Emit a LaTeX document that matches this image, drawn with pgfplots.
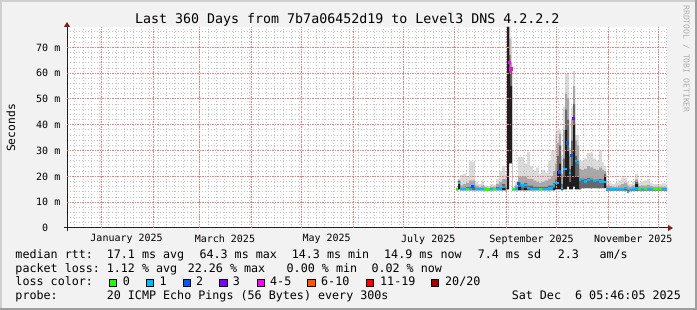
\documentclass[border=0pt]{standalone}
\usepackage{fontspec}
\setmainfont{DejaVu Sans Mono}
\usepackage{pgfplots}
\usepackage{pgfplotstable}
\pgfplotsset{compat=1.18}
\usepgfplotslibrary{fillbetween}
\usetikzlibrary{arrows.meta}
\frenchspacing

\definecolor{bgc}{HTML}{F2F2F2}
\definecolor{shA}{HTML}{CFCFCF}
\definecolor{shB}{HTML}{9E9E9E}
\definecolor{gridc}{HTML}{C2C2C2}
\definecolor{mgridc}{HTML}{EB8080}
\definecolor{arrowc}{HTML}{801F1F}
\definecolor{axisc}{HTML}{1F1F1F}
\definecolor{wm}{HTML}{B0B0B0}
\definecolor{L0}{HTML}{26FF00}
\definecolor{L1}{HTML}{00B8FF}
\definecolor{L2}{HTML}{0059FF}
\definecolor{L3}{HTML}{7E00FF}
\definecolor{L4}{HTML}{FF00FF}
\definecolor{L6}{HTML}{FF5500}
\definecolor{L11}{HTML}{FF0000}
\definecolor{L20}{HTML}{A10000}
\definecolor{sm1}{HTML}{BEBEBE}
\definecolor{sm2}{HTML}{A8A8A8}
\definecolor{sm3}{HTML}{686868}
\definecolor{sm4}{HTML}{1E1E1E}

\newcommand\legfont{\fontsize{11.7bp}{14bp}\selectfont}
\newcommand\titlefont{\fontsize{13.3bp}{16bp}\selectfont}
\newcommand\tickfont{\fontsize{10bp}{12bp}\selectfont}
\newcommand\wmfont{\fontsize{8.1bp}{10bp}\selectfont}
\newcommand\ylfont{\fontsize{11.3bp}{13bp}\selectfont}

% d = days since 11 Dec 2024 05:46; values in ms
\pgfplotstableread{
d      med   lo    core  p60   p80   hi
233.4  15.0  14.6  14.6  15.2  15.5  16.0
234.6  17.5  15.0  18.0  18.2  18.6  19.0
235.8  15.0  14.6  14.6  15.6  16.5  20.5
237.6  15.0  14.6  14.6  15.6  17.0  21.0
239.4  15.0  14.6  14.6  15.8  17.5  20.0
241.2  15.1  14.6  14.6  16.0  18.5  26.0
243.0  16.2  14.6  14.6  16.5  18.5  25.5
244.8  15.2  14.6  14.6  15.6  16.5  18.0
246.6  15.0  14.6  14.6  15.4  16.0  17.0
248.4  15.0  14.6  14.6  15.4  16.5  18.5
250.2  14.9  14.5  14.5  15.2  15.8  16.5
252.0  14.9  14.5  14.5  15.2  15.6  16.3
253.8  15.0  14.6  14.6  15.3  16.0  17.0
255.6  15.0  14.6  14.6  15.3  16.0  16.8
257.4  15.0  14.6  14.6  15.8  17.0  19.0
259.2  15.3  14.6  14.6  16.0  18.0  22.0
261.0  16.0  14.6  15.5  17.0  19.0  24.0
262.8  15.2  14.6  14.6  16.0  19.0  21.0
264.0  nan   15.0  77.9  77.9  77.9  77.9
265.2  64.3  25.0  60.0  67.0  73.5  77.9
266.1  61.8  25.0  55.0  61.0  64.0  73.5
267.0  15.0  14.6  14.6  15.2  15.4  15.8
268.8  15.3  14.6  14.6  15.5  16.5  18.0
270.6  17.3  14.6  16.0  17.5  20.0  27.6
272.4  16.5  14.6  15.0  17.0  20.0  27.6
274.2  16.6  14.6  15.5  17.5  20.0  25.0
276.0  15.5  14.6  14.6  16.5  19.0  29.5
277.8  15.2  14.6  14.6  16.5  19.0  24.0
279.6  15.0  14.6  14.6  16.0  18.5  22.0
281.4  15.0  14.6  14.6  16.0  18.0  23.5
283.2  15.0  14.6  14.6  15.8  17.5  21.0
285.0  15.0  14.6  14.6  16.0  18.0  22.5
286.8  15.0  14.6  14.6  16.0  18.5  21.5
288.6  15.3  14.6  14.6  16.5  19.0  26.0
290.4  15.3  14.6  14.6  16.5  20.0  30.0
291.6  16.5  14.6  15.5  17.5  22.0  30.0
292.8  17.4  15.0  17.0  19.0  25.0  36.7
294.0  17.4  15.0  22.0  28.0  33.0  38.0
295.2  21.8  15.0  25.0  32.0  36.5  38.0
296.4  15.5  14.6  14.6  17.0  21.0  28.0
297.6  22.8  15.0  20.0  27.0  38.0  47.0
298.8  22.8  15.0  38.0  46.0  52.0  59.8
300.0  33.0  16.0  30.0  42.0  50.0  59.8
301.2  21.4  15.0  18.0  23.0  28.0  31.0
302.4  28.2  15.0  24.0  34.0  42.0  47.0
303.6  42.5  16.0  40.0  48.0  55.0  60.9
304.8  26.0  15.0  20.0  28.0  34.0  36.0
306.0  25.3  15.0  20.0  26.0  32.0  36.0
307.2  18.5  15.0  15.0  19.0  23.0  26.0
308.4  19.0  15.5  15.5  19.0  22.5  26.0
310.2  18.0  15.5  15.5  19.0  23.0  27.0
312.0  18.5  15.5  15.5  19.5  24.0  29.0
313.8  19.0  15.5  15.5  19.0  23.5  29.0
315.6  18.2  15.5  15.5  18.8  23.0  27.0
317.4  18.5  15.5  15.5  18.8  22.5  26.0
319.2  18.0  15.5  15.5  19.0  23.5  30.0
321.0  18.0  15.5  15.5  18.8  22.5  25.5
322.2  17.9  15.5  20.0  21.0  22.0  24.0
323.4  15.0  14.5  14.5  15.3  16.5  18.5
325.2  15.0  14.5  14.5  15.3  16.2  17.5
327.0  14.9  14.5  14.5  15.2  16.0  17.0
328.8  15.0  14.5  14.5  15.3  16.0  17.5
330.6  15.0  14.5  14.5  15.4  16.5  18.5
332.4  15.0  14.5  14.5  15.5  17.0  19.5
334.2  15.6  14.5  14.5  15.8  17.5  19.5
336.0  14.0  13.8  13.8  15.0  16.5  18.0
337.2  14.8  14.3  14.3  15.2  16.0  17.0
339.0  15.0  14.5  14.5  15.3  16.5  18.0
340.8  15.3  14.5  17.0  18.0  18.8  21.0
342.6  15.0  14.5  14.5  15.3  16.2  17.5
344.4  15.2  14.5  14.5  15.4  16.5  18.0
346.2  15.0  14.5  14.5  15.3  16.5  18.5
348.0  15.2  14.5  14.5  15.5  16.8  19.0
349.8  15.0  14.5  14.5  15.2  16.2  17.5
351.6  15.0  14.5  14.5  15.2  16.0  17.0
353.4  15.0  14.5  14.5  15.2  16.0  17.0
355.2  15.0  14.5  14.5  15.2  16.0  17.0
357.0  15.0  14.5  14.5  15.2  16.0  17.5
358.8  15.0  14.5  14.5  15.2  16.0  17.0
360.0  15.0  14.5  14.5  15.2  16.0  17.0
}\smoke

\pgfplotstableread{
d      v
233.4  15.0
234.6  15.0
234.7  nan
239.4  15.0
241.2  15.0
241.3  nan
250.2  14.9
253.8  14.9
253.9  nan
255.6  15.0
257.4  15.0
257.5  nan
267.0  15.0
268.8  15.0
268.9  nan
283.2  15.0
285.0  15.0
285.1  nan
342.6  15.0
344.4  15.0
344.5  nan
346.2  15.0
348.0  15.0
348.1  nan
351.6  15.0
357.0  15.0
}\green

\begin{document}
\begin{tikzpicture}
\pgfplotsset{set layers}
\begin{pgfonlayer}{axis background}
\fill[bgc] (0,0) rectangle (697bp,310bp);
\fill[shA] (0,0) rectangle (2bp,310bp);
\fill[shA] (0,308bp) rectangle (697bp,310bp);
\fill[shB] (695bp,0) rectangle (697bp,310bp);
\fill[shB] (0,0) rectangle (697bp,2bp);
\end{pgfonlayer}

\begin{axis}[
  at={(67bp,82bp)}, anchor=south west,
  scale only axis, width=600bp, height=201bp,
  xmin=0, xmax=360, ymin=0, ymax=77.9,
  axis background/.style={fill=white},
  axis lines=left,
  axis line style={draw=axisc, line width=1bp},
  x axis line style={shorten <=-3bp, shorten >=-6bp, -{Triangle[length=5bp,width=6bp,color=arrowc]}},
  y axis line style={shorten <=-3bp, shorten >=-5bp, -{Triangle[length=5bp,width=6bp,color=arrowc]}},
  major tick length=0pt, minor tick length=0pt,
  tick label style={font=\tickfont},
  xtick={35.76,94.76,155.76,216.76,278.76,339.76},
  xticklabels={\mbox{January 2025},\mbox{March 2025},\mbox{May 2025},\mbox{July 2025},\mbox{September 2025},\mbox{November 2025}},
  xticklabel style={anchor=north, inner sep=0pt, yshift=-6.3bp},
  xmajorgrids=false, ymajorgrids=false,
  minor xtick={4.76,9.76,...,359.76},
  xminorgrids=true,
  ytick={0,10,20,30,40,50,60,70},
  yticklabels={\mbox{0\hphantom{ m}},\mbox{10 m},\mbox{20 m},\mbox{30 m},\mbox{40 m},\mbox{50 m},\mbox{60 m},\mbox{70 m}},
  yticklabel style={anchor=east, inner sep=0pt, xshift=-6.5bp},
  minor ytick={2,4,6,8,12,14,16,18,22,24,26,28,32,34,36,38,42,44,46,48,52,54,56,58,62,64,66,68,72,74,76},
  yminorgrids=true,
  every minor grid/.style={draw=gridc, dash pattern=on 1bp off 2bp, line width=1bp},
  unbounded coords=jump,
]
% major (red) grid: every 10 ms and at month starts
\pgfplotsinvokeforeach{10,20,30,40,50,60,70}{
  \addplot[forget plot, draw=mgridc, dash pattern=on 1.5bp off 1bp, line width=1bp] coordinates {(0,#1) (360,#1)};
}
\pgfplotsinvokeforeach{20.76,51.76,79.76,110.76,140.76,171.76,201.76,232.76,263.76,293.76,324.76,354.76}{
  \addplot[forget plot, draw=mgridc, dash pattern=on 1.5bp off 1bp, line width=1bp] coordinates {(#1,0) (#1,77.9)};
}
\addplot[const plot, draw=none, name path=pHi] table[x=d,y=hi]{\smoke};
\addplot[const plot, draw=none, name path=pB] table[x=d,y=p80]{\smoke};
\addplot[const plot, draw=none, name path=pC] table[x=d,y=p60]{\smoke};
\addplot[const plot, draw=none, name path=pD] table[x=d,y=core]{\smoke};
\addplot[const plot, draw=none, name path=pLo] table[x=d,y=lo]{\smoke};
\addplot[fill=sm1, fill opacity=0.55, draw=none] fill between[of=pHi and pB];
\addplot[fill=sm2, draw=none] fill between[of=pB and pC];
\addplot[fill=sm3, draw=none] fill between[of=pC and pD];
\addplot[fill=sm4, draw=none] fill between[of=pD and pLo];
\addplot[jump mark left, draw=L1, line width=2.4bp] table[x=d,y=med]{\smoke};
\addplot[sharp plot, draw=L0, line width=2.4bp] table[x=d,y=v]{\green};
\addplot[only marks, mark=square*, mark size=1.3bp, color=L2] coordinates {(243.0,16.2) (270.6,17.3) (295.2,21.8) (300.0,33.0) (302.4,28.2)};
\addplot[only marks, mark=square*, mark size=1.3bp, color=L4] coordinates {(265.2,64.3) (266.1,61.8)};
\addplot[only marks, mark=square*, mark size=1.3bp, color=L3] coordinates {(303.6,42.5)};
\end{axis}

\node[anchor=base, inner sep=0pt, font=\titlefont] at (347.3bp,286.5bp) {Last 360 Days from 7b7a06452d19 to Level3 DNS 4.2.2.2};
\node[anchor=base, inner sep=0pt, rotate=90, font=\ylfont] at (15bp,182bp) {Seconds};
\node[anchor=base, inner sep=0pt, rotate=-90, font=\wmfont, text=wm] at (683.5bp,251bp) {RRDTOOL / TOBI OETIKER};

\begin{scope}[every node/.style={anchor=base west, inner sep=0pt, font=\legfont}]
\node at (15.3bp,51.5bp) {median rtt:};
\node at (106.6bp,51.5bp) {17.1 ms avg};
\node at (199.3bp,51.5bp) {64.3 ms max};
\node at (291.6bp,51.5bp) {14.3 ms min};
\node at (384.0bp,51.5bp) {14.9 ms now};
\node at (477.6bp,51.5bp) {7.4 ms sd};
\node at (557.6bp,51.5bp) {2.3};
\node at (599.3bp,51.5bp) {am/s};
\node at (15.3bp,37.8bp) {packet loss:};
\node at (106.6bp,37.8bp) {1.12 \% avg};
\node at (187.6bp,37.8bp) {22.26 \% max};
\node at (286.5bp,37.8bp) {0.00 \% min};
\node at (371.3bp,37.8bp) {0.02 \% now};
\node at (15.3bp,24.1bp) {loss color:};
\node at (122.6bp,24.1bp) {0};
\node at (159.3bp,24.1bp) {1};
\node at (196.0bp,24.1bp) {2};
\node at (232.6bp,24.1bp) {3};
\node at (270.0bp,24.1bp) {4-5};
\node at (321.0bp,24.1bp) {6-10};
\node at (380.0bp,24.1bp) {11-19};
\node at (445.0bp,24.1bp) {20/20};
\node at (15.3bp,10.4bp) {probe:};
\node at (106.6bp,10.4bp) {20 ICMP Echo Pings (56 Bytes) every 300s};
\node[anchor=base east] at (681bp,10.4bp) {Sat Dec~~6 05:46:05 2025};
\end{scope}
\begin{scope}[line width=0.8bp, draw=black]
\filldraw[fill=L0] (109.4bp,23.8bp) rectangle ++(7.2bp,7.2bp);
\filldraw[fill=L1] (146.1bp,23.8bp) rectangle ++(7.2bp,7.2bp);
\filldraw[fill=L2] (183.1bp,23.8bp) rectangle ++(7.2bp,7.2bp);
\filldraw[fill=L3] (219.7bp,23.8bp) rectangle ++(7.2bp,7.2bp);
\filldraw[fill=L4] (257.1bp,23.8bp) rectangle ++(7.2bp,7.2bp);
\filldraw[fill=L6] (307.7bp,23.8bp) rectangle ++(7.2bp,7.2bp);
\filldraw[fill=L11] (366.1bp,23.8bp) rectangle ++(7.2bp,7.2bp);
\filldraw[fill=L20] (431.1bp,23.8bp) rectangle ++(7.2bp,7.2bp);
\end{scope}
\pgfresetboundingbox
\useasboundingbox (0,0) rectangle (697bp,310bp);
\end{tikzpicture}
\end{document}
